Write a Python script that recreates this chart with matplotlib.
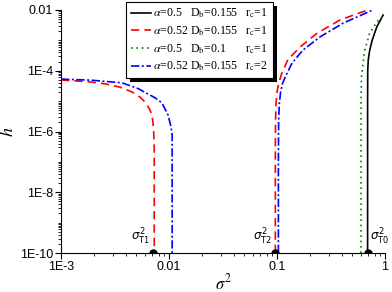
import numpy as np
import matplotlib
matplotlib.use('Agg')
import matplotlib.pyplot as plt
from matplotlib import ticker, patheffects
from matplotlib.font_manager import FontProperties

plt.rcParams['font.family'] = ['Liberation Sans', 'DejaVu Sans']

# alpha=0.5, Db=0.155, rc=1 (black)
black_s = [0.69, 0.69, 0.692, 0.70, 0.72, 0.76, 0.84, 0.96]
black_h = [1e-10, 1e-5, 1e-4, 2.3e-4, 4.5e-4, 1e-3, 2.8e-3, 6.8e-3]

# alpha=0.5, Db=0.1, rc=1 (green)
green_s = [0.60, 0.60, 0.605, 0.62, 0.65, 0.72, 0.84, 0.96]
green_h = [1e-10, 1e-5, 6e-5, 1.3e-4, 4.8e-4, 1.7e-3, 4e-3, 6.3e-3]

# alpha=0.52, Db=0.155, rc=1 (red), two branches
red_lo_s = [0.001, 0.00186, 0.00256, 0.0035, 0.00455, 0.0054, 0.0060, 0.0066, 0.00697, 0.0072, 0.0073, 0.0073]
red_lo_h = [5e-5, 4.3e-5, 3.7e-5, 2.9e-5, 2.0e-5, 1.35e-5, 9.3e-6, 5.5e-6, 3.5e-6, 1.2e-6, 2.5e-7, 1e-10]
red_hi_s = [0.0965, 0.0965, 0.0968, 0.0978, 0.1, 0.104, 0.111, 0.126, 0.163, 0.234, 0.383, 0.68]
red_hi_h = [1e-10, 1e-7, 2e-6, 8e-6, 2e-5, 4e-5, 8.5e-5, 2.3e-4, 6e-4, 1.7e-3, 4.7e-3, 9.8e-3]

# alpha=0.52, Db=0.155, rc=2 (blue), two branches
blue_lo_s = [0.001, 0.0019, 0.00367, 0.00516, 0.0074, 0.0086, 0.0098, 0.0104, 0.0107, 0.0107]
blue_lo_h = [5.3e-5, 4.9e-5, 4.0e-5, 2.6e-5, 1.3e-5, 8.7e-6, 3.5e-6, 1.5e-6, 7.8e-7, 1e-10]
blue_hi_s = [0.103, 0.103, 0.1035, 0.105, 0.108, 0.113, 0.121, 0.138, 0.174, 0.25, 0.41, 0.76]
blue_hi_h = [1e-10, 1e-7, 2e-6, 8e-6, 2e-5, 4e-5, 7e-5, 1.8e-4, 4.8e-4, 1.3e-3, 3.7e-3, 9.8e-3]

# transition points
trans_s = [0.0071, 0.096, 0.69]
trans_lbl = [r'$\sigma^2_{\mathrm{T1}}$', r'$\sigma^2_{\mathrm{T2}}$', r'$\sigma^2_{\mathrm{T0}}$']

xticks = [1e-3, 1e-2, 1e-1, 1]
xtick_lbl = ['1E-3', '0.01', '0.1', '1']
yticks = [1e-10, 1e-8, 1e-6, 1e-4, 1e-2]
ytick_lbl = ['1E-10', '1E-8', '1E-6', '1E-4', '0.01']

d1 = r'$\hspace{0.7}$'
d2 = r'$\hspace{1.4}$'
gap = r'$\hspace{1.0}$'
labels = [
    r'$\alpha$=0.5' + d1 + r' D$_\mathrm{b}$=0.155' + gap + r'r$_\mathrm{c}$=1',
    r'$\alpha$=0.52 D$_\mathrm{b}$=0.155' + gap + r'r$_\mathrm{c}$=1',
    r'$\alpha$=0.5' + d1 + r' D$_\mathrm{b}$=0.1' + d2 + gap + r'r$_\mathrm{c}$=1',
    r'$\alpha$=0.52 D$_\mathrm{b}$=0.155' + gap + r'r$_\mathrm{c}$=2',
]

fig = plt.figure(figsize=(3.92, 2.92), dpi=100)
ax = fig.add_axes([61/392, 1 - 253/292, 324/392, 243/292])

lw = 1.2
l1, = ax.plot(black_s, black_h, '-', color='k', lw=lw)
l2, = ax.plot(red_hi_s, red_hi_h, color='red', lw=lw, dashes=(5, 3))
ax.plot(red_lo_s, red_lo_h, color='red', lw=lw, dashes=(5, 3))
l3, = ax.plot(green_s, green_h, color='green', lw=lw, dashes=(1, 2.2))
l4, = ax.plot(blue_hi_s, blue_hi_h, color='blue', lw=lw, dashes=(5, 1.5, 1.2, 1.5))
ax.plot(blue_lo_s, blue_lo_h, color='blue', lw=lw, dashes=(5, 1.5, 1.2, 1.5))

ax.plot(trans_s, [1e-10] * len(trans_s), 'o', color='k', ms=5, zorder=5)
for i, (s, t) in enumerate(zip(trans_s, trans_lbl)):
    if i == 2:
        ax.annotate(t, xy=(s, 1e-10), xytext=(2, 4), textcoords='offset points',
                    ha='left', va='bottom', fontsize=8.5)
    else:
        ax.annotate(t, xy=(s, 1e-10), xytext=(-2, 4), textcoords='offset points',
                    ha='right', va='bottom', fontsize=8.5)

ax.set_xscale('log')
ax.set_yscale('log')
ax.set_xlim(1e-3, 1)
ax.set_ylim(1e-10, 1e-2)

ax.spines['top'].set_visible(False)
ax.spines['right'].set_visible(False)
ax.set_xticks(xticks)
ax.set_xticklabels(xtick_lbl)
ax.set_yticks(yticks)
ax.set_yticklabels(ytick_lbl)
ax.xaxis.set_minor_locator(ticker.LogLocator(base=10, subs=np.arange(2, 10), numticks=20))
ax.yaxis.set_minor_locator(ticker.LogLocator(base=10, subs=np.arange(1, 10), numticks=40))
ax.xaxis.set_minor_formatter(ticker.NullFormatter())
ax.yaxis.set_minor_formatter(ticker.NullFormatter())
ax.tick_params(which='major', direction='out', length=4, width=0.8, labelsize=9, pad=1.5)
ax.tick_params(which='minor', direction='out', length=2, width=0.6)

ax.set_xlabel(r'$\sigma^2$', fontsize=12, math_fontfamily='stix', labelpad=0)
ax.set_ylabel(r'$h$', fontsize=13, math_fontfamily='stix', labelpad=2)

prop = FontProperties(family='Liberation Serif', size=8.6, math_fontfamily='stix')
leg = ax.legend([l1, l2, l3, l4], labels, prop=prop, loc='upper left',
                bbox_to_anchor=(0.2006, 1.033), borderaxespad=0, fancybox=False,
                handlelength=1.7, handletextpad=0.15, borderpad=0.4, labelspacing=0.35,
                framealpha=1, edgecolor='k')
leg.get_frame().set_linewidth(0.8)
leg.get_frame().set_path_effects([
    patheffects.SimplePatchShadow(offset=(3, -3), shadow_rgbFace='k', alpha=1.0),
    patheffects.Normal()])
leg.set_clip_on(False)

fig.savefig('out.png', dpi=100)
